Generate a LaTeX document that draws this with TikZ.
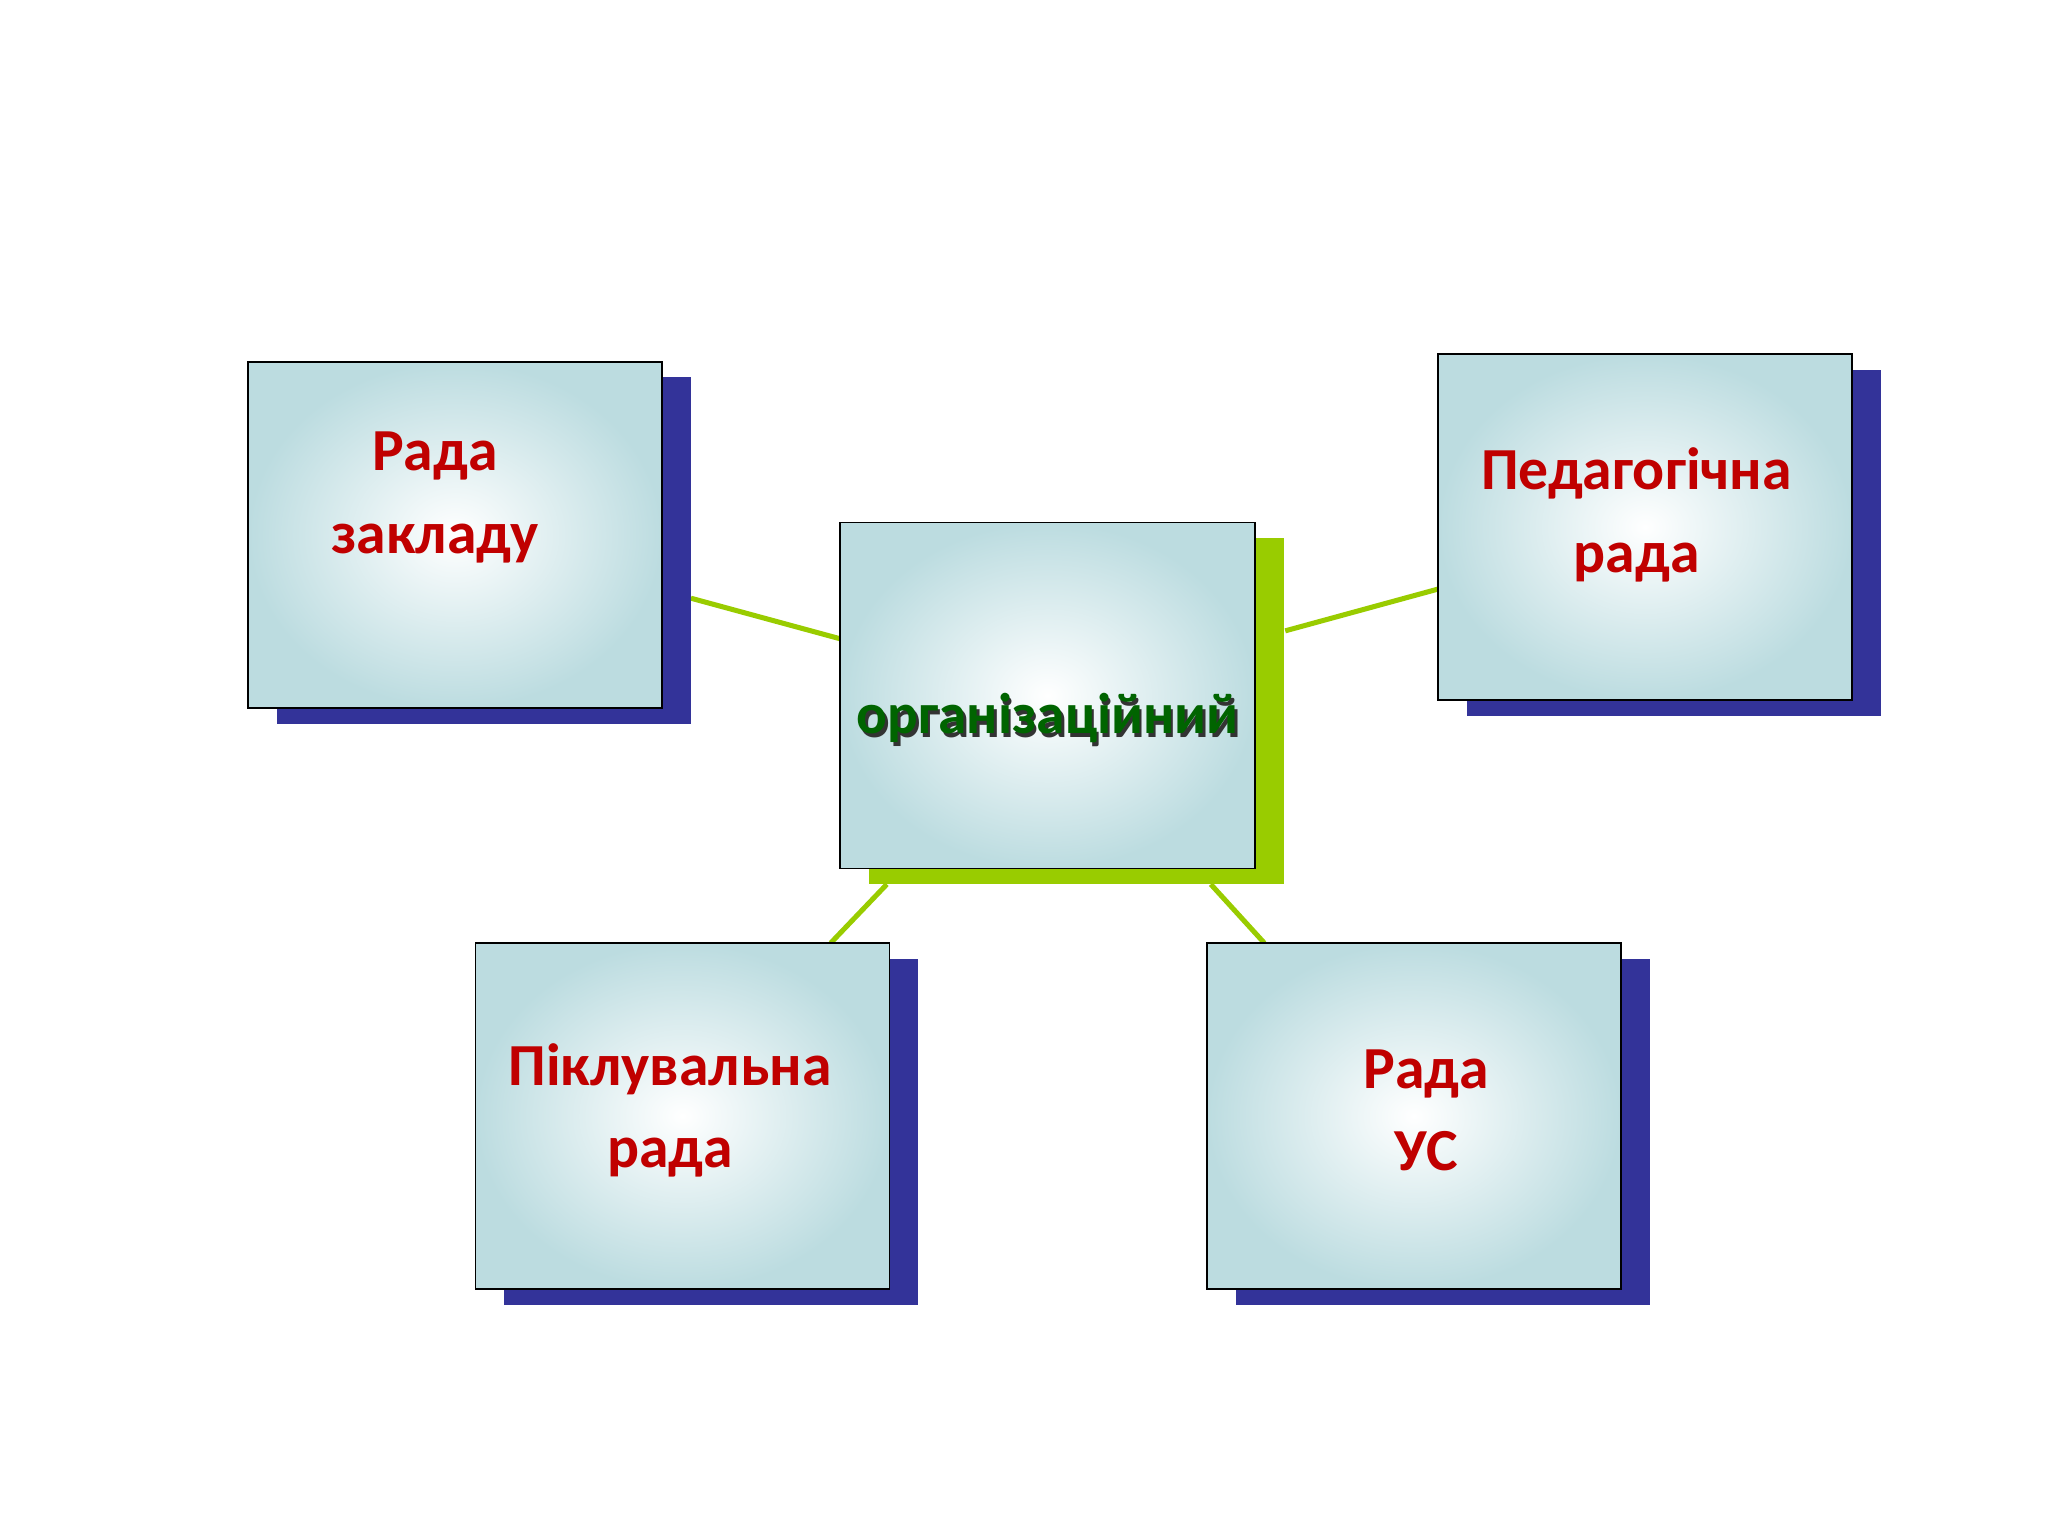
\documentclass[tikz,border=0pt]{standalone}
\usepackage{fontspec}
\setmainfont{Carlito}
\begin{document}
\begin{tikzpicture}[x=0.02cm,y=-0.02cm]
\definecolor{boxedge}{HTML}{BCDCE0}
\definecolor{shblue}{HTML}{333399}
\definecolor{shgreen}{HTML}{99CC00}
\definecolor{txtred}{HTML}{C00000}
\definecolor{txtgreen}{HTML}{006400}
\tikzset{
  conn/.style={shgreen,line width=2.2pt},
  lbl/.style={text=txtred,font=\bfseries\fontsize{26}{36}\selectfont,align=center}
}
\useasboundingbox (0,0) rectangle (1568,1176);
\newcommand{\mybox}[6]{%
  \fill[#6] (#2+22,#3+12) rectangle (#4+22,#5+12);
  \shade[inner color=white,outer color=boxedge] (#2,#3) rectangle (#4,#5);
  \draw[black,line width=0.8pt] (#2,#3) rectangle (#4,#5);
  \coordinate (#1nw) at (#2,#3);
  \coordinate (#1se) at (#4+22,#5+12);
}
\coordinate (l1a) at (529,458); \coordinate (l1b) at (643,489);
\coordinate (l2a) at (984,483); \coordinate (l2b) at (1101,451);
\coordinate (l3a) at (679,677); \coordinate (l3b) at (636,722);
\coordinate (l4a) at (927,677); \coordinate (l4b) at (968,722);
\draw[conn] (l1a) -- (l1b);
\draw[conn] (l2a) -- (l2b);
\draw[conn] (l3a) -- (l3b);
\draw[conn] (l4a) -- (l4b);
\mybox{tl}{190}{277}{507}{542}{shblue}
\mybox{c}{643}{400}{961}{665}{shgreen}
\mybox{tr}{1101}{271}{1418}{536}{shblue}
\mybox{bl}{364}{722}{681}{987}{shblue}
\mybox{br}{924}{722}{1241}{987}{shblue}
\node[lbl] (t1) at (333,381) {Рада\\закладу};
\node[lbl] (t2) at (1253,394) {Педагогічна\\рада};
\node[lbl] (t3) at (513,850) {Піклувальна\\рада};
\node[lbl] (t4) at (1092,850) {Рада\\УС};
\node[text=black!80,font=\bfseries\fontsize{25}{30}\selectfont] (cs) at (804,553) {організаційний};
\node[text=txtgreen,font=\bfseries\fontsize{25}{30}\selectfont] (ct) at (802,550) {організаційний};
\end{tikzpicture}
\end{document}
